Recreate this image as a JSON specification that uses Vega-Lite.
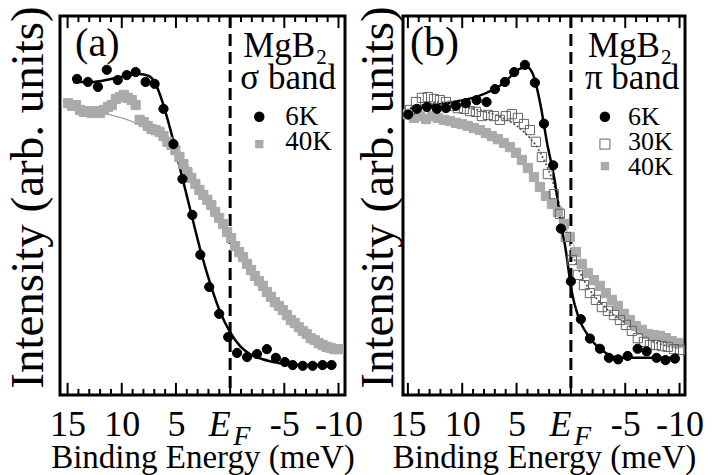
{
  "$schema": "https://vega.github.io/schema/vega-lite/v6.json",
  "padding": {"left": 2, "top": 4, "right": 0, "bottom": 0},
  "background": "white",
  "bounds": "flush",
  "spacing": 58,
  "config": {
    "font": "Liberation Serif",
    "view": {"stroke": "black", "strokeWidth": 3},
    "style": {"guide-label": {"font": "Liberation Serif", "fill": "black"}, "guide-title": {"font": "Liberation Serif", "fill": "black", "fontWeight": "normal"}},
    "axis": {"labelFont": "Liberation Serif", "titleFont": "Liberation Serif", "labelColor": "black", "titleColor": "black", "titleFontWeight": "normal", "grid": false},
    "axisY": {"ticks": false, "labels": false, "domain": false, "grid": false, "titleFontSize": 47, "titleFont": "Liberation Serif", "titleFontWeight": "normal", "titleColor": "black", "titleY": 181},
    "text": {"font": "Liberation Serif", "color": "black", "align": "left", "baseline": "alphabetic"}
  },
  "datasets": {
    "a_pts": [
      {"e": 14.95, "i": 77.0, "temp": "40K"}, {"e": 14.59, "i": 76.3, "temp": "40K"}, {"e": 14.22, "i": 76.5, "temp": "40K"}, {"e": 13.85, "i": 75.2, "temp": "40K"}, {"e": 13.49, "i": 74.7, "temp": "40K"}, {"e": 13.12, "i": 74.9, "temp": "40K"}, {"e": 12.75, "i": 74.4, "temp": "40K"}, {"e": 12.39, "i": 74.9, "temp": "40K"}, {"e": 12.02, "i": 74.4, "temp": "40K"}, {"e": 11.65, "i": 75.2, "temp": "40K"}, {"e": 11.28, "i": 76.0, "temp": "40K"}, {"e": 10.92, "i": 76.5, "temp": "40K"}, {"e": 10.55, "i": 78.1, "temp": "40K"}, {"e": 10.18, "i": 78.6, "temp": "40K"}, {"e": 9.82, "i": 79.2, "temp": "40K"}, {"e": 9.45, "i": 78.4, "temp": "40K"}, {"e": 9.08, "i": 77.8, "temp": "40K"}, {"e": 8.72, "i": 76.5, "temp": "40K"}, {"e": 8.35, "i": 72.6, "temp": "40K"}, {"e": 7.98, "i": 72.0, "temp": "40K"}, {"e": 7.61, "i": 71.0, "temp": "40K"}, {"e": 7.25, "i": 70.2, "temp": "40K"}, {"e": 6.88, "i": 69.9, "temp": "40K"}, {"e": 6.51, "i": 69.4, "temp": "40K"}, {"e": 6.15, "i": 68.3, "temp": "40K"}, {"e": 5.78, "i": 66.8, "temp": "40K"}, {"e": 5.41, "i": 66.0, "temp": "40K"}, {"e": 5.05, "i": 64.6, "temp": "40K"}, {"e": 4.68, "i": 62.8, "temp": "40K"}, {"e": 4.31, "i": 60.9, "temp": "40K"}, {"e": 3.94, "i": 58.8, "temp": "40K"}, {"e": 3.58, "i": 57.3, "temp": "40K"}, {"e": 3.21, "i": 55.7, "temp": "40K"}, {"e": 2.84, "i": 54.1, "temp": "40K"}, {"e": 2.48, "i": 52.8, "temp": "40K"}, {"e": 2.11, "i": 51.5, "temp": "40K"}, {"e": 1.74, "i": 50.1, "temp": "40K"}, {"e": 1.38, "i": 48.3, "temp": "40K"}, {"e": 1.01, "i": 46.7, "temp": "40K"}, {"e": 0.64, "i": 45.1, "temp": "40K"}, {"e": 0.28, "i": 43.0, "temp": "40K"}, {"e": -0.09, "i": 41.4, "temp": "40K"}, {"e": -0.46, "i": 39.3, "temp": "40K"}, {"e": -0.83, "i": 37.7, "temp": "40K"}, {"e": -1.19, "i": 36.4, "temp": "40K"}, {"e": -1.56, "i": 34.6, "temp": "40K"}, {"e": -1.93, "i": 33.0, "temp": "40K"}, {"e": -2.29, "i": 31.4, "temp": "40K"}, {"e": -2.66, "i": 30.1, "temp": "40K"}, {"e": -3.03, "i": 28.8, "temp": "40K"}, {"e": -3.39, "i": 27.2, "temp": "40K"}, {"e": -3.76, "i": 25.9, "temp": "40K"}, {"e": -4.13, "i": 24.5, "temp": "40K"}, {"e": -4.5, "i": 23.5, "temp": "40K"}, {"e": -4.86, "i": 22.4, "temp": "40K"}, {"e": -5.23, "i": 21.1, "temp": "40K"}, {"e": -5.6, "i": 19.8, "temp": "40K"}, {"e": -5.96, "i": 19.0, "temp": "40K"}, {"e": -6.33, "i": 17.9, "temp": "40K"}, {"e": -6.7, "i": 16.9, "temp": "40K"}, {"e": -7.06, "i": 16.1, "temp": "40K"}, {"e": -7.43, "i": 15.0, "temp": "40K"}, {"e": -7.8, "i": 14.5, "temp": "40K"}, {"e": -8.17, "i": 13.7, "temp": "40K"}, {"e": -8.53, "i": 13.2, "temp": "40K"}, {"e": -8.9, "i": 12.7, "temp": "40K"}, {"e": -9.27, "i": 12.4, "temp": "40K"}, {"e": -9.63, "i": 12.1, "temp": "40K"}, {"e": -10.0, "i": 12.1, "temp": "40K"},
      {"e": 14.13, "i": 83.4, "temp": "6K"}, {"e": 13.12, "i": 82.6, "temp": "6K"}, {"e": 12.2, "i": 81.3, "temp": "6K"}, {"e": 11.38, "i": 85.8, "temp": "6K"}, {"e": 10.37, "i": 83.1, "temp": "6K"}, {"e": 9.54, "i": 84.4, "temp": "6K"}, {"e": 8.72, "i": 85.2, "temp": "6K"}, {"e": 7.8, "i": 82.6, "temp": "6K"}, {"e": 6.97, "i": 82.1, "temp": "6K"}, {"e": 6.15, "i": 75.5, "temp": "6K"}, {"e": 5.23, "i": 66.2, "temp": "6K"}, {"e": 4.4, "i": 57.0, "temp": "6K"}, {"e": 3.49, "i": 47.5, "temp": "6K"}, {"e": 2.75, "i": 37.0, "temp": "6K"}, {"e": 1.93, "i": 28.5, "temp": "6K"}, {"e": 1.01, "i": 21.4, "temp": "6K"}, {"e": 0.18, "i": 15.3, "temp": "6K"}, {"e": -0.64, "i": 11.1, "temp": "6K"}, {"e": -1.56, "i": 10.0, "temp": "6K"}, {"e": -2.48, "i": 10.8, "temp": "6K"}, {"e": -3.39, "i": 12.1, "temp": "6K"}, {"e": -4.22, "i": 9.8, "temp": "6K"}, {"e": -5.05, "i": 8.7, "temp": "6K"}, {"e": -5.78, "i": 7.9, "temp": "6K"}, {"e": -6.7, "i": 7.7, "temp": "6K"}, {"e": -7.61, "i": 7.7, "temp": "6K"}, {"e": -8.53, "i": 7.9, "temp": "6K"}, {"e": -9.36, "i": 7.9, "temp": "6K"}
    ],
    "a_fit": [
      {"e": 14.95, "i": 77.3, "temp": "40K"}, {"e": 12.84, "i": 75.7, "temp": "40K"}, {"e": 11.01, "i": 73.9, "temp": "40K"}, {"e": 9.17, "i": 72.3, "temp": "40K"}, {"e": 7.98, "i": 70.7, "temp": "40K"}, {"e": 6.42, "i": 68.1, "temp": "40K"}, {"e": 4.59, "i": 63.6, "temp": "40K"}, {"e": 2.75, "i": 54.6, "temp": "40K"}, {"e": 0.92, "i": 46.4, "temp": "40K"}, {"e": -0.92, "i": 38.0, "temp": "40K"}, {"e": -2.75, "i": 30.1, "temp": "40K"}, {"e": -4.59, "i": 23.2, "temp": "40K"}, {"e": -6.42, "i": 17.9, "temp": "40K"}, {"e": -8.26, "i": 14.0, "temp": "40K"}, {"e": -10.09, "i": 12.1, "temp": "40K"},
      {"e": 14.5, "i": 82.6, "temp": "6K"}, {"e": 12.84, "i": 82.6, "temp": "6K"}, {"e": 11.0, "i": 83.4, "temp": "6K"}, {"e": 9.63, "i": 84.2, "temp": "6K"}, {"e": 8.44, "i": 84.7, "temp": "6K"}, {"e": 7.52, "i": 84.2, "temp": "6K"}, {"e": 6.88, "i": 82.1, "temp": "6K"}, {"e": 6.24, "i": 77.3, "temp": "6K"}, {"e": 5.5, "i": 69.9, "temp": "6K"}, {"e": 4.59, "i": 59.4, "temp": "6K"}, {"e": 3.67, "i": 48.8, "temp": "6K"}, {"e": 2.75, "i": 38.3, "temp": "6K"}, {"e": 1.83, "i": 29.3, "temp": "6K"}, {"e": 0.92, "i": 21.9, "temp": "6K"}, {"e": 0.0, "i": 16.6, "temp": "6K"}, {"e": -0.92, "i": 12.9, "temp": "6K"}, {"e": -1.83, "i": 10.8, "temp": "6K"}, {"e": -2.94, "i": 9.5, "temp": "6K"}, {"e": -4.59, "i": 8.4, "temp": "6K"}, {"e": -6.42, "i": 7.9, "temp": "6K"}, {"e": -9.63, "i": 7.9, "temp": "6K"}
    ],
    "b_pts": [
      {"e": 15.0, "i": 74.1, "temp": "40K"}, {"e": 14.44, "i": 73.1, "temp": "40K"}, {"e": 13.89, "i": 73.6, "temp": "40K"}, {"e": 13.34, "i": 72.8, "temp": "40K"}, {"e": 12.79, "i": 73.6, "temp": "40K"}, {"e": 12.24, "i": 73.1, "temp": "40K"}, {"e": 11.68, "i": 72.6, "temp": "40K"}, {"e": 11.13, "i": 72.3, "temp": "40K"}, {"e": 10.58, "i": 71.8, "temp": "40K"}, {"e": 10.03, "i": 71.5, "temp": "40K"}, {"e": 9.48, "i": 71.0, "temp": "40K"}, {"e": 8.92, "i": 70.4, "temp": "40K"}, {"e": 8.37, "i": 69.9, "temp": "40K"}, {"e": 7.82, "i": 69.1, "temp": "40K"}, {"e": 7.27, "i": 68.3, "temp": "40K"}, {"e": 6.72, "i": 67.5, "temp": "40K"}, {"e": 6.16, "i": 66.5, "temp": "40K"}, {"e": 5.61, "i": 65.4, "temp": "40K"}, {"e": 5.06, "i": 63.9, "temp": "40K"}, {"e": 4.51, "i": 62.0, "temp": "40K"}, {"e": 3.96, "i": 59.9, "temp": "40K"}, {"e": 3.4, "i": 57.5, "temp": "40K"}, {"e": 2.85, "i": 54.9, "temp": "40K"}, {"e": 2.3, "i": 52.5, "temp": "40K"}, {"e": 1.75, "i": 50.4, "temp": "40K"}, {"e": 1.2, "i": 48.3, "temp": "40K"}, {"e": 0.64, "i": 45.1, "temp": "40K"}, {"e": 0.09, "i": 41.7, "temp": "40K"}, {"e": -0.46, "i": 37.7, "temp": "40K"}, {"e": -1.01, "i": 34.6, "temp": "40K"}, {"e": -1.56, "i": 32.2, "temp": "40K"}, {"e": -2.12, "i": 30.3, "temp": "40K"}, {"e": -2.67, "i": 28.8, "temp": "40K"}, {"e": -3.22, "i": 26.9, "temp": "40K"}, {"e": -3.77, "i": 25.1, "temp": "40K"}, {"e": -4.32, "i": 23.5, "temp": "40K"}, {"e": -4.88, "i": 21.4, "temp": "40K"}, {"e": -5.43, "i": 19.8, "temp": "40K"}, {"e": -5.98, "i": 18.2, "temp": "40K"}, {"e": -6.53, "i": 17.2, "temp": "40K"}, {"e": -7.08, "i": 16.1, "temp": "40K"}, {"e": -7.64, "i": 15.8, "temp": "40K"}, {"e": -8.19, "i": 15.6, "temp": "40K"}, {"e": -8.74, "i": 15.0, "temp": "40K"}, {"e": -9.29, "i": 14.2, "temp": "40K"}, {"e": -9.84, "i": 13.7, "temp": "40K"},
      {"e": 14.81, "i": 75.2, "temp": "30K"}, {"e": 14.26, "i": 77.3, "temp": "30K"}, {"e": 13.71, "i": 78.4, "temp": "30K"}, {"e": 13.16, "i": 78.6, "temp": "30K"}, {"e": 12.6, "i": 78.1, "temp": "30K"}, {"e": 12.05, "i": 77.8, "temp": "30K"}, {"e": 11.5, "i": 77.3, "temp": "30K"}, {"e": 10.95, "i": 76.3, "temp": "30K"}, {"e": 10.4, "i": 75.7, "temp": "30K"}, {"e": 9.84, "i": 75.5, "temp": "30K"}, {"e": 9.29, "i": 74.9, "temp": "30K"}, {"e": 8.74, "i": 74.7, "temp": "30K"}, {"e": 8.19, "i": 73.6, "temp": "30K"}, {"e": 7.64, "i": 73.9, "temp": "30K"}, {"e": 7.08, "i": 73.6, "temp": "30K"}, {"e": 6.53, "i": 72.6, "temp": "30K"}, {"e": 5.98, "i": 73.6, "temp": "30K"}, {"e": 5.43, "i": 74.1, "temp": "30K"}, {"e": 4.88, "i": 73.1, "temp": "30K"}, {"e": 4.32, "i": 71.5, "temp": "30K"}, {"e": 3.77, "i": 69.9, "temp": "30K"}, {"e": 3.22, "i": 66.8, "temp": "30K"}, {"e": 2.67, "i": 62.8, "temp": "30K"}, {"e": 2.12, "i": 58.3, "temp": "30K"}, {"e": 1.56, "i": 53.0, "temp": "30K"}, {"e": 1.01, "i": 47.8, "temp": "30K"}, {"e": 0.46, "i": 41.7, "temp": "30K"}, {"e": -0.09, "i": 35.6, "temp": "30K"}, {"e": -0.64, "i": 31.7, "temp": "30K"}, {"e": -1.2, "i": 29.0, "temp": "30K"}, {"e": -1.75, "i": 26.9, "temp": "30K"}, {"e": -2.3, "i": 25.1, "temp": "30K"}, {"e": -2.85, "i": 23.2, "temp": "30K"}, {"e": -3.4, "i": 22.2, "temp": "30K"}, {"e": -3.96, "i": 21.1, "temp": "30K"}, {"e": -4.51, "i": 19.8, "temp": "30K"}, {"e": -5.06, "i": 18.5, "temp": "30K"}, {"e": -5.61, "i": 16.9, "temp": "30K"}, {"e": -6.16, "i": 15.0, "temp": "30K"}, {"e": -6.72, "i": 14.0, "temp": "30K"}, {"e": -7.27, "i": 13.2, "temp": "30K"}, {"e": -7.82, "i": 13.2, "temp": "30K"}, {"e": -8.37, "i": 12.9, "temp": "30K"}, {"e": -8.92, "i": 12.7, "temp": "30K"}, {"e": -9.48, "i": 12.1, "temp": "30K"}, {"e": -10.03, "i": 11.9, "temp": "30K"},
      {"e": 14.97, "i": 74.0, "temp": "6K"}, {"e": 14.17, "i": 75.5, "temp": "6K"}, {"e": 13.25, "i": 76.0, "temp": "6K"}, {"e": 12.33, "i": 75.5, "temp": "6K"}, {"e": 11.5, "i": 75.7, "temp": "6K"}, {"e": 10.58, "i": 76.3, "temp": "6K"}, {"e": 9.66, "i": 77.0, "temp": "6K"}, {"e": 8.68, "i": 77.8, "temp": "6K"}, {"e": 7.76, "i": 77.3, "temp": "6K"}, {"e": 6.99, "i": 80.7, "temp": "6K"}, {"e": 6.07, "i": 82.6, "temp": "6K"}, {"e": 5.22, "i": 85.2, "temp": "6K"}, {"e": 4.23, "i": 87.1, "temp": "6K"}, {"e": 3.31, "i": 82.4, "temp": "6K"}, {"e": 2.48, "i": 71.6, "temp": "6K"}, {"e": 1.63, "i": 60.6, "temp": "6K"}, {"e": 0.92, "i": 43.9, "temp": "6K"}, {"e": 0.0, "i": 30.0, "temp": "6K"}, {"e": -0.92, "i": 20.0, "temp": "6K"}, {"e": -1.75, "i": 14.9, "temp": "6K"}, {"e": -2.67, "i": 12.2, "temp": "6K"}, {"e": -3.5, "i": 9.8, "temp": "6K"}, {"e": -4.35, "i": 9.4, "temp": "6K"}, {"e": -5.22, "i": 10.3, "temp": "6K"}, {"e": -6.14, "i": 12.2, "temp": "6K"}, {"e": -6.97, "i": 11.5, "temp": "6K"}, {"e": -7.88, "i": 9.8, "temp": "6K"}, {"e": -8.71, "i": 9.2, "temp": "6K"}, {"e": -9.57, "i": 9.6, "temp": "6K"}
    ],
    "b_fit": [
      {"e": 15.0, "i": 74.7, "temp": "40K"}, {"e": 12.05, "i": 72.8, "temp": "40K"}, {"e": 9.29, "i": 71.0, "temp": "40K"}, {"e": 6.53, "i": 67.5, "temp": "40K"}, {"e": 4.69, "i": 62.8, "temp": "40K"}, {"e": 2.85, "i": 54.9, "temp": "40K"}, {"e": 1.01, "i": 47.0, "temp": "40K"}, {"e": -0.37, "i": 39.0, "temp": "40K"}, {"e": -1.75, "i": 31.9, "temp": "40K"}, {"e": -3.59, "i": 25.3, "temp": "40K"}, {"e": -5.43, "i": 19.8, "temp": "40K"}, {"e": -7.73, "i": 15.8, "temp": "40K"}, {"e": -9.84, "i": 14.0, "temp": "40K"},
      {"e": 14.81, "i": 75.5, "temp": "30K"}, {"e": 12.05, "i": 77.3, "temp": "30K"}, {"e": 9.29, "i": 75.7, "temp": "30K"}, {"e": 6.53, "i": 73.4, "temp": "30K"}, {"e": 4.51, "i": 69.9, "temp": "30K"}, {"e": 2.85, "i": 64.1, "temp": "30K"}, {"e": 1.75, "i": 57.0, "temp": "30K"}, {"e": 0.83, "i": 47.8, "temp": "30K"}, {"e": -0.09, "i": 37.7, "temp": "30K"}, {"e": -1.29, "i": 29.8, "temp": "30K"}, {"e": -3.13, "i": 23.2, "temp": "30K"}, {"e": -5.24, "i": 18.5, "temp": "30K"}, {"e": -7.27, "i": 14.5, "temp": "30K"}, {"e": -9.84, "i": 12.4, "temp": "30K"},
      {"e": 14.81, "i": 75.5, "temp": "6K"}, {"e": 12.97, "i": 76.3, "temp": "6K"}, {"e": 10.67, "i": 77.4, "temp": "6K"}, {"e": 8.83, "i": 78.6, "temp": "6K"}, {"e": 7.64, "i": 79.9, "temp": "6K"}, {"e": 6.07, "i": 82.6, "temp": "6K"}, {"e": 4.88, "i": 85.8, "temp": "6K"}, {"e": 4.05, "i": 86.5, "temp": "6K"}, {"e": 3.5, "i": 84.7, "temp": "6K"}, {"e": 2.85, "i": 77.3, "temp": "6K"}, {"e": 2.21, "i": 66.8, "temp": "6K"}, {"e": 1.47, "i": 56.2, "temp": "6K"}, {"e": 0.83, "i": 43.8, "temp": "6K"}, {"e": 0.55, "i": 39.6, "temp": "6K"}, {"e": -0.09, "i": 27.2, "temp": "6K"}, {"e": -0.64, "i": 21.1, "temp": "6K"}, {"e": -1.56, "i": 15.8, "temp": "6K"}, {"e": -2.85, "i": 11.9, "temp": "6K"}, {"e": -4.05, "i": 10.0, "temp": "6K"}, {"e": -5.61, "i": 9.8, "temp": "6K"}, {"e": -7.73, "i": 9.8, "temp": "6K"}, {"e": -9.84, "i": 9.8, "temp": "6K"}
    ],
    "ef": [{"e": 0}],
    "one": [{"k": 1}],
    "major": [{"t": 15}, {"t": 10}, {"t": 5}, {"t": 0}, {"t": -5}, {"t": -10}],
    "minor": [{"t": 14}, {"t": 13}, {"t": 12}, {"t": 11}, {"t": 9}, {"t": 8}, {"t": 7}, {"t": 6}, {"t": 4}, {"t": 3}, {"t": 2}, {"t": 1}, {"t": -1}, {"t": -2}, {"t": -3}, {"t": -4}, {"t": -6}, {"t": -7}, {"t": -8}, {"t": -9}]
  },
  "resolve": {
    "scale": {"x": "independent", "y": "independent", "color": "independent", "fill": "independent", "stroke": "independent", "shape": "independent", "strokeWidth": "independent", "strokeDash": "independent"}
  },
  "hconcat": [
    {
      "width": 285,
      "height": 379,
      "resolve": {"axis": {"x": "independent"}},
      "layer": [
        {
          "data": {"name": "ef"},
          "mark": {"type": "rule", "strokeDash": [12, 6], "strokeWidth": 3, "color": "black"},
          "encoding": {
            "x": {"field": "e", "type": "quantitative", "scale": {"domain": [15.7, -10.6], "nice": false, "zero": false}, "axis": null}
          }
        },
        {
          "data": {"name": "major"},
          "mark": {"type": "rule", "strokeWidth": 2, "color": "black"},
          "encoding": {
            "x": {"field": "t", "type": "quantitative", "scale": {"domain": [15.7, -10.6], "nice": false, "zero": false}, "axis": null},
            "y": {"datum": 0, "type": "quantitative", "scale": {"domain": [0, 100], "nice": false, "zero": false}, "axis": {"title": "Intensity (arb. units)", "titlePadding": 8}},
            "y2": {"datum": 3.2}
          }
        },
        {
          "data": {"name": "major"},
          "mark": {"type": "rule", "strokeWidth": 2, "color": "black"},
          "encoding": {
            "x": {"field": "t", "type": "quantitative", "scale": {"domain": [15.7, -10.6], "nice": false, "zero": false}, "axis": null},
            "y": {"datum": 100, "type": "quantitative", "scale": {"domain": [0, 100], "nice": false, "zero": false}, "axis": {"title": "Intensity (arb. units)", "titlePadding": 8}},
            "y2": {"datum": 96.8}
          }
        },
        {
          "data": {"name": "minor"},
          "mark": {"type": "rule", "strokeWidth": 2, "color": "black"},
          "encoding": {
            "x": {"field": "t", "type": "quantitative", "scale": {"domain": [15.7, -10.6], "nice": false, "zero": false}, "axis": null},
            "y": {"datum": 0, "type": "quantitative", "scale": {"domain": [0, 100], "nice": false, "zero": false}, "axis": {"title": "Intensity (arb. units)", "titlePadding": 8}},
            "y2": {"datum": 1.6}
          }
        },
        {
          "data": {"name": "minor"},
          "mark": {"type": "rule", "strokeWidth": 2, "color": "black"},
          "encoding": {
            "x": {"field": "t", "type": "quantitative", "scale": {"domain": [15.7, -10.6], "nice": false, "zero": false}, "axis": null},
            "y": {"datum": 100, "type": "quantitative", "scale": {"domain": [0, 100], "nice": false, "zero": false}, "axis": {"title": "Intensity (arb. units)", "titlePadding": 8}},
            "y2": {"datum": 98.4}
          }
        },
        {
          "data": {"name": "a_fit"},
          "mark": {"type": "line", "interpolate": "monotone"},
          "encoding": {
            "x": {"field": "e", "type": "quantitative", "scale": {"domain": [15.7, -10.6], "nice": false, "zero": false}, "axis": null},
            "y": {"field": "i", "type": "quantitative", "scale": {"domain": [0, 100], "nice": false, "zero": false}, "axis": {"title": "Intensity (arb. units)", "titlePadding": 8}},
            "color": {"field": "temp", "type": "nominal", "scale": {"domain": ["6K", "40K"], "range": ["black", "#a0a0a0"]}, "legend": null},
            "strokeWidth": {"field": "temp", "type": "nominal", "scale": {"domain": ["6K", "40K"], "range": [2.5, 1.2]}, "legend": null}
          }
        },
        {
          "data": {"name": "a_pts"},
          "mark": {"type": "point", "filled": true, "opacity": 1, "strokeWidth": 1, "size": 85},
          "encoding": {
            "x": {"field": "e", "type": "quantitative", "scale": {"domain": [15.7, -10.6], "nice": false, "zero": false},
              "axis": {"orient": "bottom", "values": [15, 10, 5, 0, -5, -10, -0.25],
                "labelExpr": "datum.value == 0 ? 'E' : (datum.value == -0.25 ? 'F' : toString(datum.value))",
                "title": "Binding Energy (meV)", "titleFont": "Liberation Serif", "titleFontSize": 33, "titleY": 72, "titleBaseline": "alphabetic", "labelFont": "Liberation Serif",
                "labelFontSize": {"condition": {"test": "datum.value == -0.25", "value": 28}, "value": 36},
                "labelFontStyle": {"condition": {"test": "datum.value == 0 || datum.value == -0.25", "value": "italic"}, "value": "normal"},
                "labelAlign": {"condition": [{"test": "datum.value == 0", "value": "right"}, {"test": "datum.value == -0.25", "value": "left"}], "value": "center"},
                "labelBaseline": "alphabetic",
                "labelPadding": {"condition": {"test": "datum.value == -0.25", "value": 49}, "value": 40},
                "labelOverlap": false, "labelFlush": false, "labelBound": false,
                "domain": false, "grid": false, "ticks": false}},
            "y": {"field": "i", "type": "quantitative", "scale": {"domain": [0, 100], "nice": false, "zero": false}, "axis": {"title": "Intensity (arb. units)", "titlePadding": 8}},
            "fill": {"field": "temp", "type": "nominal", "scale": {"domain": ["6K", "40K"], "range": ["black", "#aaaaaa"]}, "legend": null},
            "stroke": {"field": "temp", "type": "nominal", "scale": {"domain": ["6K", "40K"], "range": ["black", "#aaaaaa"]}, "legend": null},
            "shape": {"field": "temp", "type": "nominal", "scale": {"domain": ["6K", "40K"], "range": ["circle", "square"]}, "legend": null}
          }
        },
        {
          "data": {"name": "one"},
          "mark": {"type": "text", "text": "(a)", "fontSize": 40},
          "encoding": {
            "x": {"datum": 14.31, "type": "quantitative", "scale": {"domain": [15.7, -10.6], "nice": false, "zero": false}, "axis": null},
            "y": {"datum": 89.4, "type": "quantitative", "scale": {"domain": [0, 100], "nice": false, "zero": false}, "axis": {"title": "Intensity (arb. units)", "titlePadding": 8}}
          }
        },
        {
          "data": {"name": "one"},
          "mark": {"type": "text", "text": "MgB₂", "fontSize": 35},
          "encoding": {
            "x": {"datum": -1.21, "type": "quantitative", "scale": {"domain": [15.7, -10.6], "nice": false, "zero": false}, "axis": null},
            "y": {"datum": 89.2, "type": "quantitative", "scale": {"domain": [0, 100], "nice": false, "zero": false}, "axis": {"title": "Intensity (arb. units)", "titlePadding": 8}}
          }
        },
        {
          "data": {"name": "one"},
          "mark": {"type": "text", "text": "σ band", "fontSize": 35},
          "encoding": {
            "x": {"datum": -0.94, "type": "quantitative", "scale": {"domain": [15.7, -10.6], "nice": false, "zero": false}, "axis": null},
            "y": {"datum": 80.7, "type": "quantitative", "scale": {"domain": [0, 100], "nice": false, "zero": false}, "axis": {"title": "Intensity (arb. units)", "titlePadding": 8}}
          }
        },
        {
          "data": {"name": "one"},
          "mark": {"type": "point", "shape": "circle", "filled": true, "color": "black", "opacity": 1, "size": 110},
          "encoding": {
            "x": {"datum": -2.69, "type": "quantitative", "scale": {"domain": [15.7, -10.6], "nice": false, "zero": false}, "axis": null},
            "y": {"datum": 73.4, "type": "quantitative", "scale": {"domain": [0, 100], "nice": false, "zero": false}, "axis": {"title": "Intensity (arb. units)", "titlePadding": 8}}
          }
        },
        {
          "data": {"name": "one"},
          "mark": {"type": "text", "text": "6K", "fontSize": 27},
          "encoding": {
            "x": {"datum": -5.09, "type": "quantitative", "scale": {"domain": [15.7, -10.6], "nice": false, "zero": false}, "axis": null},
            "y": {"datum": 71.2, "type": "quantitative", "scale": {"domain": [0, 100], "nice": false, "zero": false}, "axis": {"title": "Intensity (arb. units)", "titlePadding": 8}}
          }
        },
        {
          "data": {"name": "one"},
          "mark": {"type": "point", "shape": "square", "filled": true, "color": "#aaaaaa", "opacity": 1, "size": 70},
          "encoding": {
            "x": {"datum": -2.69, "type": "quantitative", "scale": {"domain": [15.7, -10.6], "nice": false, "zero": false}, "axis": null},
            "y": {"datum": 66.2, "type": "quantitative", "scale": {"domain": [0, 100], "nice": false, "zero": false}, "axis": {"title": "Intensity (arb. units)", "titlePadding": 8}}
          }
        },
        {
          "data": {"name": "one"},
          "mark": {"type": "text", "text": "40K", "fontSize": 27},
          "encoding": {
            "x": {"datum": -5.09, "type": "quantitative", "scale": {"domain": [15.7, -10.6], "nice": false, "zero": false}, "axis": null},
            "y": {"datum": 64.6, "type": "quantitative", "scale": {"domain": [0, 100], "nice": false, "zero": false}, "axis": {"title": "Intensity (arb. units)", "titlePadding": 8}}
          }
        }
      ]
    },
    {
      "width": 282,
      "height": 379,
      "resolve": {"axis": {"x": "independent"}},
      "layer": [
        {
          "data": {"name": "ef"},
          "mark": {"type": "rule", "strokeDash": [12, 6], "strokeWidth": 3, "color": "black"},
          "encoding": {
            "x": {"field": "e", "type": "quantitative", "scale": {"domain": [15.45, -10.5], "nice": false, "zero": false}, "axis": null}
          }
        },
        {
          "data": {"name": "major"},
          "mark": {"type": "rule", "strokeWidth": 2, "color": "black"},
          "encoding": {
            "x": {"field": "t", "type": "quantitative", "scale": {"domain": [15.45, -10.5], "nice": false, "zero": false}, "axis": null},
            "y": {"datum": 0, "type": "quantitative", "scale": {"domain": [0, 100], "nice": false, "zero": false}, "axis": {"title": "Intensity (arb. units)", "titlePadding": 1}},
            "y2": {"datum": 3.2}
          }
        },
        {
          "data": {"name": "major"},
          "mark": {"type": "rule", "strokeWidth": 2, "color": "black"},
          "encoding": {
            "x": {"field": "t", "type": "quantitative", "scale": {"domain": [15.45, -10.5], "nice": false, "zero": false}, "axis": null},
            "y": {"datum": 100, "type": "quantitative", "scale": {"domain": [0, 100], "nice": false, "zero": false}, "axis": {"title": "Intensity (arb. units)", "titlePadding": 1}},
            "y2": {"datum": 96.8}
          }
        },
        {
          "data": {"name": "minor"},
          "mark": {"type": "rule", "strokeWidth": 2, "color": "black"},
          "encoding": {
            "x": {"field": "t", "type": "quantitative", "scale": {"domain": [15.45, -10.5], "nice": false, "zero": false}, "axis": null},
            "y": {"datum": 0, "type": "quantitative", "scale": {"domain": [0, 100], "nice": false, "zero": false}, "axis": {"title": "Intensity (arb. units)", "titlePadding": 1}},
            "y2": {"datum": 1.6}
          }
        },
        {
          "data": {"name": "minor"},
          "mark": {"type": "rule", "strokeWidth": 2, "color": "black"},
          "encoding": {
            "x": {"field": "t", "type": "quantitative", "scale": {"domain": [15.45, -10.5], "nice": false, "zero": false}, "axis": null},
            "y": {"datum": 100, "type": "quantitative", "scale": {"domain": [0, 100], "nice": false, "zero": false}, "axis": {"title": "Intensity (arb. units)", "titlePadding": 1}},
            "y2": {"datum": 98.4}
          }
        },
        {
          "data": {"name": "b_fit"},
          "mark": {"type": "line", "interpolate": "monotone"},
          "encoding": {
            "x": {"field": "e", "type": "quantitative", "scale": {"domain": [15.45, -10.5], "nice": false, "zero": false}, "axis": null},
            "y": {"field": "i", "type": "quantitative", "scale": {"domain": [0, 100], "nice": false, "zero": false}, "axis": {"title": "Intensity (arb. units)", "titlePadding": 1}},
            "color": {"field": "temp", "type": "nominal", "scale": {"domain": ["6K", "30K", "40K"], "range": ["black", "#555555", "#a0a0a0"]}, "legend": null},
            "strokeWidth": {"field": "temp", "type": "nominal", "scale": {"domain": ["6K", "30K", "40K"], "range": [2.5, 1, 1.2]}, "legend": null},
            "strokeDash": {"field": "temp", "type": "nominal", "scale": {"domain": ["6K", "30K", "40K"], "range": [[1, 0], [2, 2], [1, 0]]}, "legend": null}
          }
        },
        {
          "data": {"name": "b_pts"},
          "mark": {"type": "point", "filled": true, "opacity": 1, "strokeWidth": 1, "size": 85},
          "encoding": {
            "x": {"field": "e", "type": "quantitative", "scale": {"domain": [15.45, -10.5], "nice": false, "zero": false},
              "axis": {"orient": "bottom", "values": [15, 10, 5, 0, -5, -10, -0.25],
                "labelExpr": "datum.value == 0 ? 'E' : (datum.value == -0.25 ? 'F' : toString(datum.value))",
                "title": "Binding Energy (meV)", "titleFont": "Liberation Serif", "titleFontSize": 33, "titleY": 72, "titleBaseline": "alphabetic", "labelFont": "Liberation Serif",
                "labelFontSize": {"condition": {"test": "datum.value == -0.25", "value": 28}, "value": 36},
                "labelFontStyle": {"condition": {"test": "datum.value == 0 || datum.value == -0.25", "value": "italic"}, "value": "normal"},
                "labelAlign": {"condition": [{"test": "datum.value == 0", "value": "right"}, {"test": "datum.value == -0.25", "value": "left"}], "value": "center"},
                "labelBaseline": "alphabetic",
                "labelPadding": {"condition": {"test": "datum.value == -0.25", "value": 49}, "value": 40},
                "labelOverlap": false, "labelFlush": false, "labelBound": false,
                "domain": false, "grid": false, "ticks": false}},
            "y": {"field": "i", "type": "quantitative", "scale": {"domain": [0, 100], "nice": false, "zero": false}, "axis": {"title": "Intensity (arb. units)", "titlePadding": 1}},
            "fill": {"field": "temp", "type": "nominal", "scale": {"domain": ["6K", "30K", "40K"], "range": ["black", "transparent", "#aaaaaa"]}, "legend": null},
            "stroke": {"field": "temp", "type": "nominal", "scale": {"domain": ["6K", "30K", "40K"], "range": ["black", "#666666", "#aaaaaa"]}, "legend": null},
            "shape": {"field": "temp", "type": "nominal", "scale": {"domain": ["6K", "30K", "40K"], "range": ["circle", "square", "square"]}, "legend": null}
          }
        },
        {
          "data": {"name": "one"},
          "mark": {"type": "text", "text": "(b)", "fontSize": 42},
          "encoding": {
            "x": {"datum": 14.81, "type": "quantitative", "scale": {"domain": [15.45, -10.5], "nice": false, "zero": false}, "axis": null},
            "y": {"datum": 89.4, "type": "quantitative", "scale": {"domain": [0, 100], "nice": false, "zero": false}, "axis": {"title": "Intensity (arb. units)", "titlePadding": 1}}
          }
        },
        {
          "data": {"name": "one"},
          "mark": {"type": "text", "text": "MgB₂", "fontSize": 35},
          "encoding": {
            "x": {"datum": -1.57, "type": "quantitative", "scale": {"domain": [15.45, -10.5], "nice": false, "zero": false}, "axis": null},
            "y": {"datum": 89.2, "type": "quantitative", "scale": {"domain": [0, 100], "nice": false, "zero": false}, "axis": {"title": "Intensity (arb. units)", "titlePadding": 1}}
          }
        },
        {
          "data": {"name": "one"},
          "mark": {"type": "text", "text": "π band", "fontSize": 35},
          "encoding": {
            "x": {"datum": -1.29, "type": "quantitative", "scale": {"domain": [15.45, -10.5], "nice": false, "zero": false}, "axis": null},
            "y": {"datum": 80.7, "type": "quantitative", "scale": {"domain": [0, 100], "nice": false, "zero": false}, "axis": {"title": "Intensity (arb. units)", "titlePadding": 1}}
          }
        },
        {
          "data": {"name": "one"},
          "mark": {"type": "point", "shape": "circle", "filled": true, "color": "black", "opacity": 1, "size": 110},
          "encoding": {
            "x": {"datum": -3.13, "type": "quantitative", "scale": {"domain": [15.45, -10.5], "nice": false, "zero": false}, "axis": null},
            "y": {"datum": 73.4, "type": "quantitative", "scale": {"domain": [0, 100], "nice": false, "zero": false}, "axis": {"title": "Intensity (arb. units)", "titlePadding": 1}}
          }
        },
        {
          "data": {"name": "one"},
          "mark": {"type": "text", "text": "6K", "fontSize": 26},
          "encoding": {
            "x": {"datum": -5.25, "type": "quantitative", "scale": {"domain": [15.45, -10.5], "nice": false, "zero": false}, "axis": null},
            "y": {"datum": 71.2, "type": "quantitative", "scale": {"domain": [0, 100], "nice": false, "zero": false}, "axis": {"title": "Intensity (arb. units)", "titlePadding": 1}}
          }
        },
        {
          "data": {"name": "one"},
          "mark": {"type": "point", "shape": "square", "filled": false, "color": "#666666", "strokeWidth": 1, "opacity": 1, "size": 100},
          "encoding": {
            "x": {"datum": -3.13, "type": "quantitative", "scale": {"domain": [15.45, -10.5], "nice": false, "zero": false}, "axis": null},
            "y": {"datum": 66.2, "type": "quantitative", "scale": {"domain": [0, 100], "nice": false, "zero": false}, "axis": {"title": "Intensity (arb. units)", "titlePadding": 1}}
          }
        },
        {
          "data": {"name": "one"},
          "mark": {"type": "text", "text": "30K", "fontSize": 26},
          "encoding": {
            "x": {"datum": -5.25, "type": "quantitative", "scale": {"domain": [15.45, -10.5], "nice": false, "zero": false}, "axis": null},
            "y": {"datum": 64.6, "type": "quantitative", "scale": {"domain": [0, 100], "nice": false, "zero": false}, "axis": {"title": "Intensity (arb. units)", "titlePadding": 1}}
          }
        },
        {
          "data": {"name": "one"},
          "mark": {"type": "point", "shape": "square", "filled": true, "color": "#aaaaaa", "opacity": 1, "size": 70},
          "encoding": {
            "x": {"datum": -3.13, "type": "quantitative", "scale": {"domain": [15.45, -10.5], "nice": false, "zero": false}, "axis": null},
            "y": {"datum": 60.4, "type": "quantitative", "scale": {"domain": [0, 100], "nice": false, "zero": false}, "axis": {"title": "Intensity (arb. units)", "titlePadding": 1}}
          }
        },
        {
          "data": {"name": "one"},
          "mark": {"type": "text", "text": "40K", "fontSize": 26},
          "encoding": {
            "x": {"datum": -5.25, "type": "quantitative", "scale": {"domain": [15.45, -10.5], "nice": false, "zero": false}, "axis": null},
            "y": {"datum": 58.0, "type": "quantitative", "scale": {"domain": [0, 100], "nice": false, "zero": false}, "axis": {"title": "Intensity (arb. units)", "titlePadding": 1}}
          }
        }
      ]
    }
  ]
}
